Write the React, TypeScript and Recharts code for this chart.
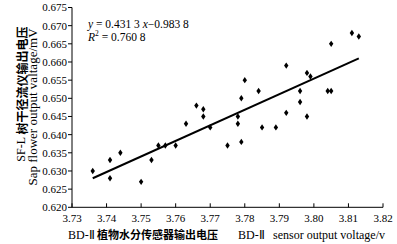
import React from "react";
import { ScatterChart, Scatter, XAxis, YAxis } from "recharts";

// sensor output voltage (v) vs sap flow output voltage (mV)
const sensorV = [
  3.736, 3.741, 3.741, 3.744, 3.75, 3.753, 3.755, 3.757, 3.76, 3.763, 3.766,
  3.768, 3.768, 3.77, 3.775, 3.778, 3.778, 3.779, 3.779, 3.78, 3.784, 3.785,
  3.789, 3.792, 3.792, 3.796, 3.796, 3.798, 3.798, 3.799, 3.804, 3.805, 3.805,
  3.811, 3.813,
];
const sapV = [
  0.63, 0.633, 0.628, 0.635, 0.627, 0.633, 0.637, 0.637, 0.637, 0.643, 0.648,
  0.647, 0.645, 0.642, 0.637, 0.645, 0.643, 0.65, 0.638, 0.655, 0.652, 0.642,
  0.642, 0.659, 0.646, 0.652, 0.649, 0.657, 0.645, 0.656, 0.652, 0.652, 0.665,
  0.668, 0.667,
];
// fitted line ends
const fitX = [3.736, 3.813];
const fitY = [0.628, 0.661];

const xTicks = [3.73, 3.74, 3.75, 3.76, 3.77, 3.78, 3.79, 3.8, 3.81, 3.82];
const yTicks = [
  0.62, 0.625, 0.63, 0.635, 0.64, 0.645, 0.65, 0.655, 0.66, 0.665, 0.67, 0.675,
];

const points = sensorV.map((x, i) => ({ x, y: sapV[i] }));
const fitLine = fitX.map((x, i) => ({ x, y: fitY[i] }));

const serif = "'Liberation Serif', 'Times New Roman', serif";
const cjk = "'Noto Sans CJK SC', sans-serif";

const Diamond = (props: any) => {
  const { cx, cy } = props;
  return (
    <polygon
      points={`${cx},${cy - 3.2} ${cx + 2.2},${cy} ${cx},${cy + 3.2} ${cx - 2.2},${cy}`}
      fill="#000"
    />
  );
};

const XTick = (props: any) => {
  const { x, y, payload } = props;
  return (
    <g>
      <line x1={x} x2={x} y1={y} y2={y - 4} stroke="#000" />
      <text x={x} y={y + 15} textAnchor="middle" fontSize={11} fill="#000" fontFamily={serif}>
        {Number(payload.value).toFixed(2)}
      </text>
    </g>
  );
};

export default function App() {
  return (
    <div style={{ position: "absolute", left: 0, top: 0, background: "#fff" }}>
      <ScatterChart
        width={397}
        height={244}
        margin={{ top: 7.5, right: 14, bottom: 6.7, left: 0 }}
      >
        <XAxis
          type="number"
          dataKey="x"
          domain={[3.73, 3.82]}
          ticks={xTicks}
          allowDataOverflow
          tickLine={false}
          tickSize={0}
          tickMargin={0}
          height={30}
          stroke="#000"
          tick={<XTick />}
        />
        <YAxis
          type="number"
          dataKey="y"
          domain={[0.62, 0.675]}
          ticks={yTicks}
          allowDataOverflow
          width={72}
          tickSize={4}
          tickMargin={1}
          stroke="#000"
          tick={{ fill: "#000", fontSize: 11, fontFamily: serif }}
          tickFormatter={(v: number) => v.toFixed(3)}
        />
        <Scatter data={points} shape={<Diamond />} isAnimationActive={false} />
        <Scatter
          data={fitLine}
          line={{ stroke: "#000", strokeWidth: 2 }}
          shape={() => <g />}
          isAnimationActive={false}
        />
        <text x={88} y={28} fontSize={11.5} fontFamily={serif} fill="#000">
          <tspan fontStyle="italic">y</tspan>
          <tspan> = 0.431 3 </tspan>
          <tspan fontStyle="italic">x</tspan>
          <tspan>−0.983 8</tspan>
        </text>
        <text x={88} y={41} fontSize={11.5} fontFamily={serif} fill="#000">
          <tspan fontStyle="italic">R</tspan>
          <tspan fontSize={7.5} dy={-5}>2</tspan>
          <tspan dy={5}> = 0.760 8</tspan>
        </text>
        <text
          transform="translate(21,94) rotate(-90)"
          textAnchor="middle"
          dominantBaseline="central"
          fontSize={12}
          fill="#000"
        >
          <tspan fontFamily={serif}>SF-L </tspan>
          <tspan fontFamily={cjk} fontWeight={700}>树干径流仪输出电压</tspan>
        </text>
        <text
          transform="translate(32,107) rotate(-90)"
          textAnchor="middle"
          dominantBaseline="central"
          fontSize={13}
          fontFamily={serif}
          fill="#000"
        >
          Sap flower output valtage/mV
        </text>
        <text y={239} fontSize={12} fill="#000">
          <tspan x={68} fontFamily={serif}>BD-Ⅱ</tspan>
          <tspan x={97} fontFamily={cjk} fontSize={11} fontWeight={700}>
            植物水分传感器输出电压
          </tspan>
          <tspan x={238} fontFamily={serif}>BD-Ⅱ</tspan>
          <tspan x={273} fontFamily={serif}>sensor output voltage/v</tspan>
        </text>
      </ScatterChart>
    </div>
  );
}
